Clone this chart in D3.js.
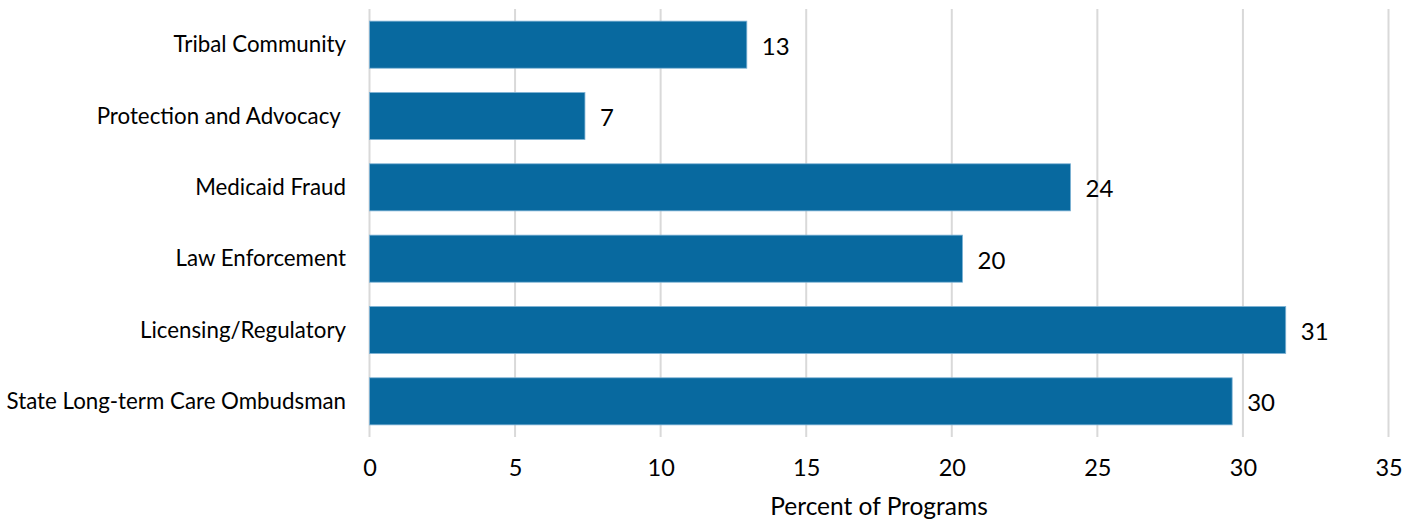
<!DOCTYPE html>
<html>
<head>
<meta charset="utf-8">
<script src="https://cdn.jsdelivr.net/npm/d3@7"></script>
<style>
  html, body { margin: 0; padding: 0; background: #fff; }
  svg { display: block; font-family: Lato, "Open Sans", sans-serif; }
  .cat { white-space: pre; }
</style>
</head>
<body>
<svg id="chart" width="1413" height="521"></svg>
<script>
// Share of programs partnering with each agency type (percent)
const categories = [
  "Tribal Community",
  "Protection and Advocacy ",
  "Medicaid Fraud",
  "Law Enforcement",
  "Licensing/Regulatory",
  "State Long-term Care Ombudsman"
];
const values = [12.96, 7.4, 24.08, 20.37, 31.47, 29.63];
const xTicks = [0, 5, 10, 15, 20, 25, 30, 35];
const xTitle = "Percent of Programs";

const svg = d3.select("#chart");
const plotLeft = 369.5, plotRight = 1388.5, plotTop = 9, plotBottom = 437;

const x = d3.scaleLinear().domain([0, 35]).range([plotLeft, plotRight]);
const y = d3.scaleBand().domain(categories).range([plotTop, plotBottom])
  .paddingInner(0.34).paddingOuter(0.17);

// vertical gridlines
svg.append("g").selectAll("line").data(xTicks).join("line")
  .attr("x1", d => x(d)).attr("x2", d => x(d))
  .attr("y1", plotTop).attr("y2", plotBottom)
  .attr("stroke", "#d9d9d9").attr("stroke-width", 2);

// bars
svg.append("g").selectAll("rect").data(values).join("rect")
  .attr("x", x(0))
  .attr("y", (d, i) => y(categories[i]))
  .attr("width", d => x(d) - x(0))
  .attr("height", y.bandwidth())
  .attr("fill", "#08699f")
  .attr("stroke", "#7fb3d5").attr("stroke-width", 0.8);

// value labels
svg.append("g").selectAll("text").data(values).join("text")
  .attr("x", d => x(d) + 15)
  .attr("y", (d, i) => y(categories[i]) + y.bandwidth() / 2 + 4)
  .attr("dominant-baseline", "middle")
  .attr("font-size", 24).attr("fill", "#000")
  .text(d => d3.format(".0f")(d));

// category labels
svg.append("g").selectAll("text").data(categories).join("text")
  .attr("class", "cat")
  .attr("x", 346)
  .attr("y", d => y(d) + y.bandwidth() / 2 + 2)
  .attr("text-anchor", "end")
  .attr("dominant-baseline", "middle")
  .attr("font-size", 22.3).attr("fill", "#000")
  .text(d => d);

// x axis tick labels
const xAxis = d3.axisBottom(x).tickValues(xTicks).tickSize(0).tickPadding(0);
const gx = svg.append("g").attr("transform", `translate(0,${plotBottom})`).call(xAxis);
gx.select(".domain").remove();
gx.selectAll("text")
  .attr("y", 31).attr("dy", "0.35em")
  .attr("font-family", "Lato, 'Open Sans', sans-serif")
  .attr("font-size", 23.5).attr("fill", "#000");

// axis title
svg.append("text")
  .attr("x", (plotLeft + plotRight) / 2)
  .attr("y", 509)
  .attr("text-anchor", "middle")
  .attr("dominant-baseline", "middle")
  .attr("font-size", 24.5).attr("fill", "#000")
  .text(xTitle);
</script>
</body>
</html>
